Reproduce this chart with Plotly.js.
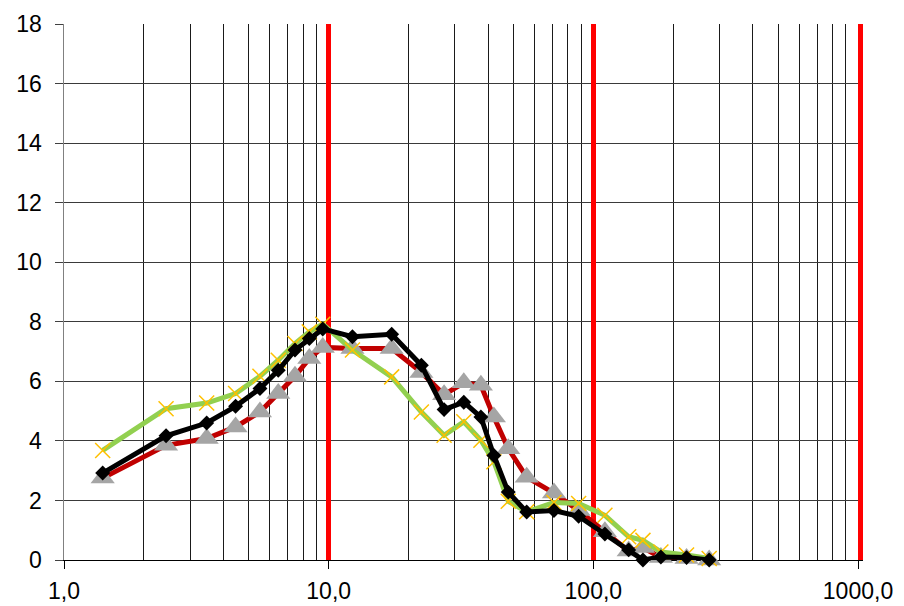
<!DOCTYPE html>
<html>
<head>
<meta charset="utf-8">
<script src="https://cdn.plot.ly/plotly-3.0.1.min.js"></script>
<style>html,body{margin:0;padding:0;background:#fff;}#chart{width:904px;height:606px;}</style>
</head>
<body>
<div id="chart"></div>
<script>
// Particle size (x, log scale) and the three series
var sizes = [1.4, 2.43, 3.46, 4.45, 5.5, 6.45, 7.46, 8.45, 9.5, 12.3, 17.3, 22.4, 27.3, 32.4, 37.6, 42.1, 47.7, 56, 71, 88, 110.6, 136, 154, 180, 225, 274];
var seriesRed = [2.75, 3.85, 4.08, 4.47, 4.97, 5.59, 6.17, 6.77, 7.14, 7.1, 7.1, 6.3, 5.55, 5.95, 5.87, 4.8, 3.74, 2.78, 2.25, 1.66, 0.95, 0.3, 0.42, 0.08, 0.05, 0.0];
var seriesGreen = [3.68, 5.08, 5.27, 5.59, 6.17, 6.71, 7.27, 7.66, 7.92, 7.05, 6.15, 4.97, 4.19, 4.64, 4.02, 3.3, 1.97, 1.62, 1.93, 1.9, 1.5, 0.78, 0.66, 0.27, 0.17, 0.05];
var seriesBlack = [2.92, 4.17, 4.6, 5.16, 5.76, 6.37, 7.05, 7.44, 7.76, 7.5, 7.58, 6.54, 5.05, 5.3, 4.8, 3.51, 2.28, 1.61, 1.66, 1.47, 0.87, 0.34, 0.0, 0.1, 0.08, 0.0];
var xTickVals = [1, 10, 100, 1000];
var xTickText = ['1,0', '10,0', '100,0', '1000,0'];
var redGridVals = [10, 100, 1000];

var traces = [
  {x: sizes, y: seriesRed, type: 'scatter', mode: 'lines+markers', cliponaxis: false,
   line: {color: '#c00000', width: 5},
   marker: {symbol: 'triangle-up', size: 21, color: '#a5a5a5'}},
  {x: sizes, y: seriesGreen, type: 'scatter', mode: 'lines+markers', cliponaxis: false,
   line: {color: '#92d050', width: 5},
   marker: {symbol: 'x-thin-open', size: 15, color: '#ffc000', line: {color: '#ffc000', width: 1.5}}},
  {x: sizes, y: seriesBlack, type: 'scatter', mode: 'lines+markers', cliponaxis: false,
   line: {color: '#000000', width: 5},
   marker: {symbol: 'diamond', size: 11.5, color: '#000000'}},
  {x: [], y: [], xaxis: 'x2', yaxis: 'y', type: 'scatter', mode: 'lines', hoverinfo: 'skip'},
  {x: [], y: [], xaxis: 'x', yaxis: 'y2', type: 'scatter', mode: 'lines', hoverinfo: 'skip'}
];

var fontSpec = {family: 'Liberation Sans, Arial, sans-serif', size: 23, color: '#000'};

var layout = {
  width: 904, height: 606,
  margin: {l: 64, r: 46, t: 24, b: 46, pad: 0},
  paper_bgcolor: '#fff', plot_bgcolor: '#fff',
  showlegend: false,
  font: fontSpec,
  xaxis: {
    type: 'log', range: [0, 3],
    tickmode: 'array', tickvals: xTickVals, ticktext: xTickText,
    showgrid: false, zeroline: false,
    showline: true, linecolor: '#000', linewidth: 1,
    ticks: 'outside', ticklen: 8, tickcolor: '#000', tickwidth: 1,
    ticklabelstandoff: 2,
    tickfont: fontSpec,
    layer: 'below traces',
    minor: {dtick: 'D1', showgrid: true, gridcolor: '#1a1a1a', gridwidth: 1, ticks: ''}
  },
  xaxis2: {
    type: 'log', range: [0, 3], overlaying: 'x', anchor: 'y',
    tickmode: 'array', tickvals: redGridVals,
    showticklabels: false, ticks: '',
    showgrid: true, gridcolor: '#ff0000', gridwidth: 5,
    zeroline: false, showline: false, layer: 'below traces'
  },
  yaxis: {
    range: [0, 18], dtick: 2, tick0: 0,
    showgrid: true, gridcolor: '#3a3a3a', gridwidth: 1,
    zeroline: false,
    showline: true, linecolor: '#808080', linewidth: 1.5,
    ticks: 'outside', ticklen: 8, tickcolor: '#404040', tickwidth: 1,
    ticklabelstandoff: 8,
    tickfont: fontSpec,
    layer: 'below traces'
  },
  yaxis2: {
    range: [0, 18], overlaying: 'y', side: 'right', anchor: 'x',
    showgrid: false, zeroline: false, showticklabels: false, ticks: '',
    showline: true, linecolor: '#ff0000', linewidth: 5,
    layer: 'below traces'
  }
};

Plotly.newPlot('chart', traces, layout, {displayModeBar: false, staticPlot: true});
</script>
</body>
</html>
